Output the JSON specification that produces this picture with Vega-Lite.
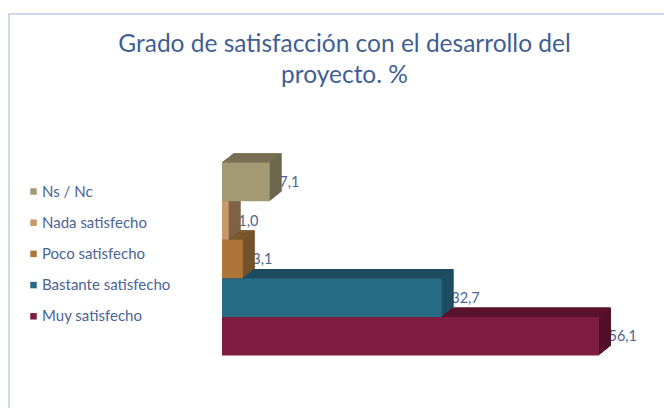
{"$schema":"https://vega.github.io/schema/vega-lite/v6.json","width":660,"height":400,"autosize":"none","padding":{"left":9,"top":14,"right":0,"bottom":0},"background":"white","view":{"stroke":"#ccd8ec","strokeWidth":2},"title":{"text":["Grado de satisfacción con el desarrollo del","proyecto. %"],"font":"Lato","fontSize":24.5,"fontWeight":"normal","color":"#3f5f94","anchor":"middle","dx":5.5,"dy":102.5,"lineHeight":31,"baseline":"bottom"},"datasets":{"d":[{"cat":"Ns / Nc","value":7.1,"label":"7,1"},{"cat":"Nada satisfecho","value":1.0,"label":"1,0"},{"cat":"Poco satisfecho","value":3.1,"label":"3,1"},{"cat":"Bastante satisfecho","value":32.7,"label":"32,7"},{"cat":"Muy satisfecho","value":56.1,"label":"56,1"}]},"data":{"name":"d"},"encoding":{"y":{"field":"cat","type":"nominal","axis":null,"scale":{"domain":["Ns / Nc","Nada satisfecho","Poco satisfecho","Bastante satisfecho","Muy satisfecho"],"range":[148.7,341.5],"paddingInner":0,"paddingOuter":0}},"x":{"field":"value","type":"quantitative","axis":null,"scale":{"domain":[-31.7,66.52],"nice":false,"zero":false}}},"resolve":{"scale":{"color":"independent"}},"layer":[
{"mark":{"type":"text","align":"left","baseline":"middle","font":"Lato","fontSize":14.5,"color":"#4a6496","xOffset":9.5,"yOffset":1},"encoding":{"text":{"field":"label"}}},
{"mark":{"type":"bar","xOffset":12,"x2Offset":12,"yOffset":-9.5,"y2Offset":-9.5},"encoding":{"color":{"field":"cat","legend":null,"scale":{"domain":["Ns / Nc","Nada satisfecho","Poco satisfecho","Bastante satisfecho","Muy satisfecho"],"range":["#68634b","#7d6145","#72502a","#1d4f63","#521128"]}}}},
{"mark":{"type":"bar","xOffset":11,"x2Offset":11,"yOffset":-9.5,"y2Offset":-9.5},"encoding":{"color":{"field":"cat","legend":null,"scale":{"domain":["Ns / Nc","Nada satisfecho","Poco satisfecho","Bastante satisfecho","Muy satisfecho"],"range":["#7b7355","#8a6a4a","#7d5a30","#1d4a5e","#5e132c"]}}}},
{"mark":{"type":"bar","xOffset":11,"x2Offset":11,"yOffset":-8.7,"y2Offset":-8.7},"encoding":{"color":{"field":"cat","legend":null,"scale":{"domain":["Ns / Nc","Nada satisfecho","Poco satisfecho","Bastante satisfecho","Muy satisfecho"],"range":["#68634b","#7d6145","#72502a","#1d4f63","#521128"]}}}},
{"mark":{"type":"bar","xOffset":10,"x2Offset":10,"yOffset":-8.7,"y2Offset":-8.7},"encoding":{"color":{"field":"cat","legend":null,"scale":{"domain":["Ns / Nc","Nada satisfecho","Poco satisfecho","Bastante satisfecho","Muy satisfecho"],"range":["#7b7355","#8a6a4a","#7d5a30","#1d4a5e","#5e132c"]}}}},
{"mark":{"type":"bar","xOffset":10,"x2Offset":10,"yOffset":-7.9,"y2Offset":-7.9},"encoding":{"color":{"field":"cat","legend":null,"scale":{"domain":["Ns / Nc","Nada satisfecho","Poco satisfecho","Bastante satisfecho","Muy satisfecho"],"range":["#68634b","#7d6145","#72502a","#1d4f63","#521128"]}}}},
{"mark":{"type":"bar","xOffset":9,"x2Offset":9,"yOffset":-7.9,"y2Offset":-7.9},"encoding":{"color":{"field":"cat","legend":null,"scale":{"domain":["Ns / Nc","Nada satisfecho","Poco satisfecho","Bastante satisfecho","Muy satisfecho"],"range":["#7b7355","#8a6a4a","#7d5a30","#1d4a5e","#5e132c"]}}}},
{"mark":{"type":"bar","xOffset":9,"x2Offset":9,"yOffset":-7.1,"y2Offset":-7.1},"encoding":{"color":{"field":"cat","legend":null,"scale":{"domain":["Ns / Nc","Nada satisfecho","Poco satisfecho","Bastante satisfecho","Muy satisfecho"],"range":["#68634b","#7d6145","#72502a","#1d4f63","#521128"]}}}},
{"mark":{"type":"bar","xOffset":8,"x2Offset":8,"yOffset":-7.1,"y2Offset":-7.1},"encoding":{"color":{"field":"cat","legend":null,"scale":{"domain":["Ns / Nc","Nada satisfecho","Poco satisfecho","Bastante satisfecho","Muy satisfecho"],"range":["#7b7355","#8a6a4a","#7d5a30","#1d4a5e","#5e132c"]}}}},
{"mark":{"type":"bar","xOffset":8,"x2Offset":8,"yOffset":-6.3,"y2Offset":-6.3},"encoding":{"color":{"field":"cat","legend":null,"scale":{"domain":["Ns / Nc","Nada satisfecho","Poco satisfecho","Bastante satisfecho","Muy satisfecho"],"range":["#68634b","#7d6145","#72502a","#1d4f63","#521128"]}}}},
{"mark":{"type":"bar","xOffset":7,"x2Offset":7,"yOffset":-6.3,"y2Offset":-6.3},"encoding":{"color":{"field":"cat","legend":null,"scale":{"domain":["Ns / Nc","Nada satisfecho","Poco satisfecho","Bastante satisfecho","Muy satisfecho"],"range":["#7b7355","#8a6a4a","#7d5a30","#1d4a5e","#5e132c"]}}}},
{"mark":{"type":"bar","xOffset":7,"x2Offset":7,"yOffset":-5.5,"y2Offset":-5.5},"encoding":{"color":{"field":"cat","legend":null,"scale":{"domain":["Ns / Nc","Nada satisfecho","Poco satisfecho","Bastante satisfecho","Muy satisfecho"],"range":["#68634b","#7d6145","#72502a","#1d4f63","#521128"]}}}},
{"mark":{"type":"bar","xOffset":6,"x2Offset":6,"yOffset":-5.5,"y2Offset":-5.5},"encoding":{"color":{"field":"cat","legend":null,"scale":{"domain":["Ns / Nc","Nada satisfecho","Poco satisfecho","Bastante satisfecho","Muy satisfecho"],"range":["#7b7355","#8a6a4a","#7d5a30","#1d4a5e","#5e132c"]}}}},
{"mark":{"type":"bar","xOffset":6,"x2Offset":6,"yOffset":-4.7,"y2Offset":-4.7},"encoding":{"color":{"field":"cat","legend":null,"scale":{"domain":["Ns / Nc","Nada satisfecho","Poco satisfecho","Bastante satisfecho","Muy satisfecho"],"range":["#68634b","#7d6145","#72502a","#1d4f63","#521128"]}}}},
{"mark":{"type":"bar","xOffset":5,"x2Offset":5,"yOffset":-4.7,"y2Offset":-4.7},"encoding":{"color":{"field":"cat","legend":null,"scale":{"domain":["Ns / Nc","Nada satisfecho","Poco satisfecho","Bastante satisfecho","Muy satisfecho"],"range":["#7b7355","#8a6a4a","#7d5a30","#1d4a5e","#5e132c"]}}}},
{"mark":{"type":"bar","xOffset":5,"x2Offset":5,"yOffset":-3.9,"y2Offset":-3.9},"encoding":{"color":{"field":"cat","legend":null,"scale":{"domain":["Ns / Nc","Nada satisfecho","Poco satisfecho","Bastante satisfecho","Muy satisfecho"],"range":["#68634b","#7d6145","#72502a","#1d4f63","#521128"]}}}},
{"mark":{"type":"bar","xOffset":4,"x2Offset":4,"yOffset":-3.9,"y2Offset":-3.9},"encoding":{"color":{"field":"cat","legend":null,"scale":{"domain":["Ns / Nc","Nada satisfecho","Poco satisfecho","Bastante satisfecho","Muy satisfecho"],"range":["#7b7355","#8a6a4a","#7d5a30","#1d4a5e","#5e132c"]}}}},
{"mark":{"type":"bar","xOffset":4,"x2Offset":4,"yOffset":-3.1,"y2Offset":-3.1},"encoding":{"color":{"field":"cat","legend":null,"scale":{"domain":["Ns / Nc","Nada satisfecho","Poco satisfecho","Bastante satisfecho","Muy satisfecho"],"range":["#68634b","#7d6145","#72502a","#1d4f63","#521128"]}}}},
{"mark":{"type":"bar","xOffset":3,"x2Offset":3,"yOffset":-3.1,"y2Offset":-3.1},"encoding":{"color":{"field":"cat","legend":null,"scale":{"domain":["Ns / Nc","Nada satisfecho","Poco satisfecho","Bastante satisfecho","Muy satisfecho"],"range":["#7b7355","#8a6a4a","#7d5a30","#1d4a5e","#5e132c"]}}}},
{"mark":{"type":"bar","xOffset":3,"x2Offset":3,"yOffset":-2.4,"y2Offset":-2.4},"encoding":{"color":{"field":"cat","legend":null,"scale":{"domain":["Ns / Nc","Nada satisfecho","Poco satisfecho","Bastante satisfecho","Muy satisfecho"],"range":["#68634b","#7d6145","#72502a","#1d4f63","#521128"]}}}},
{"mark":{"type":"bar","xOffset":2,"x2Offset":2,"yOffset":-2.4,"y2Offset":-2.4},"encoding":{"color":{"field":"cat","legend":null,"scale":{"domain":["Ns / Nc","Nada satisfecho","Poco satisfecho","Bastante satisfecho","Muy satisfecho"],"range":["#7b7355","#8a6a4a","#7d5a30","#1d4a5e","#5e132c"]}}}},
{"mark":{"type":"bar","xOffset":2,"x2Offset":2,"yOffset":-1.6,"y2Offset":-1.6},"encoding":{"color":{"field":"cat","legend":null,"scale":{"domain":["Ns / Nc","Nada satisfecho","Poco satisfecho","Bastante satisfecho","Muy satisfecho"],"range":["#68634b","#7d6145","#72502a","#1d4f63","#521128"]}}}},
{"mark":{"type":"bar","xOffset":1,"x2Offset":1,"yOffset":-1.6,"y2Offset":-1.6},"encoding":{"color":{"field":"cat","legend":null,"scale":{"domain":["Ns / Nc","Nada satisfecho","Poco satisfecho","Bastante satisfecho","Muy satisfecho"],"range":["#7b7355","#8a6a4a","#7d5a30","#1d4a5e","#5e132c"]}}}},
{"mark":{"type":"bar","xOffset":1,"x2Offset":1,"yOffset":-0.8,"y2Offset":-0.8},"encoding":{"color":{"field":"cat","legend":null,"scale":{"domain":["Ns / Nc","Nada satisfecho","Poco satisfecho","Bastante satisfecho","Muy satisfecho"],"range":["#68634b","#7d6145","#72502a","#1d4f63","#521128"]}}}},
{"mark":{"type":"bar","yOffset":-0.8,"y2Offset":-0.8},"encoding":{"color":{"field":"cat","legend":null,"scale":{"domain":["Ns / Nc","Nada satisfecho","Poco satisfecho","Bastante satisfecho","Muy satisfecho"],"range":["#7b7355","#8a6a4a","#7d5a30","#1d4a5e","#5e132c"]}}}},
{"mark":{"type":"bar"},"encoding":{"color":{"field":"cat","sort":["Ns / Nc","Nada satisfecho","Poco satisfecho","Bastante satisfecho","Muy satisfecho"],"scale":{"domain":["Ns / Nc","Nada satisfecho","Poco satisfecho","Bastante satisfecho","Muy satisfecho"],"range":["#a39a74","#c9986a","#ad7638","#256b86","#7e1d40"]},"legend":{"title":null,"orient":"none","legendX":17,"legendY":170,"symbolType":"square","symbolSize":42,"symbolStrokeWidth":0,"labelFont":"Lato","labelFontSize":15,"labelColor":"#4a6496","rowPadding":15.2,"labelOffset":1,"symbolOpacity":1}}}}
]}
